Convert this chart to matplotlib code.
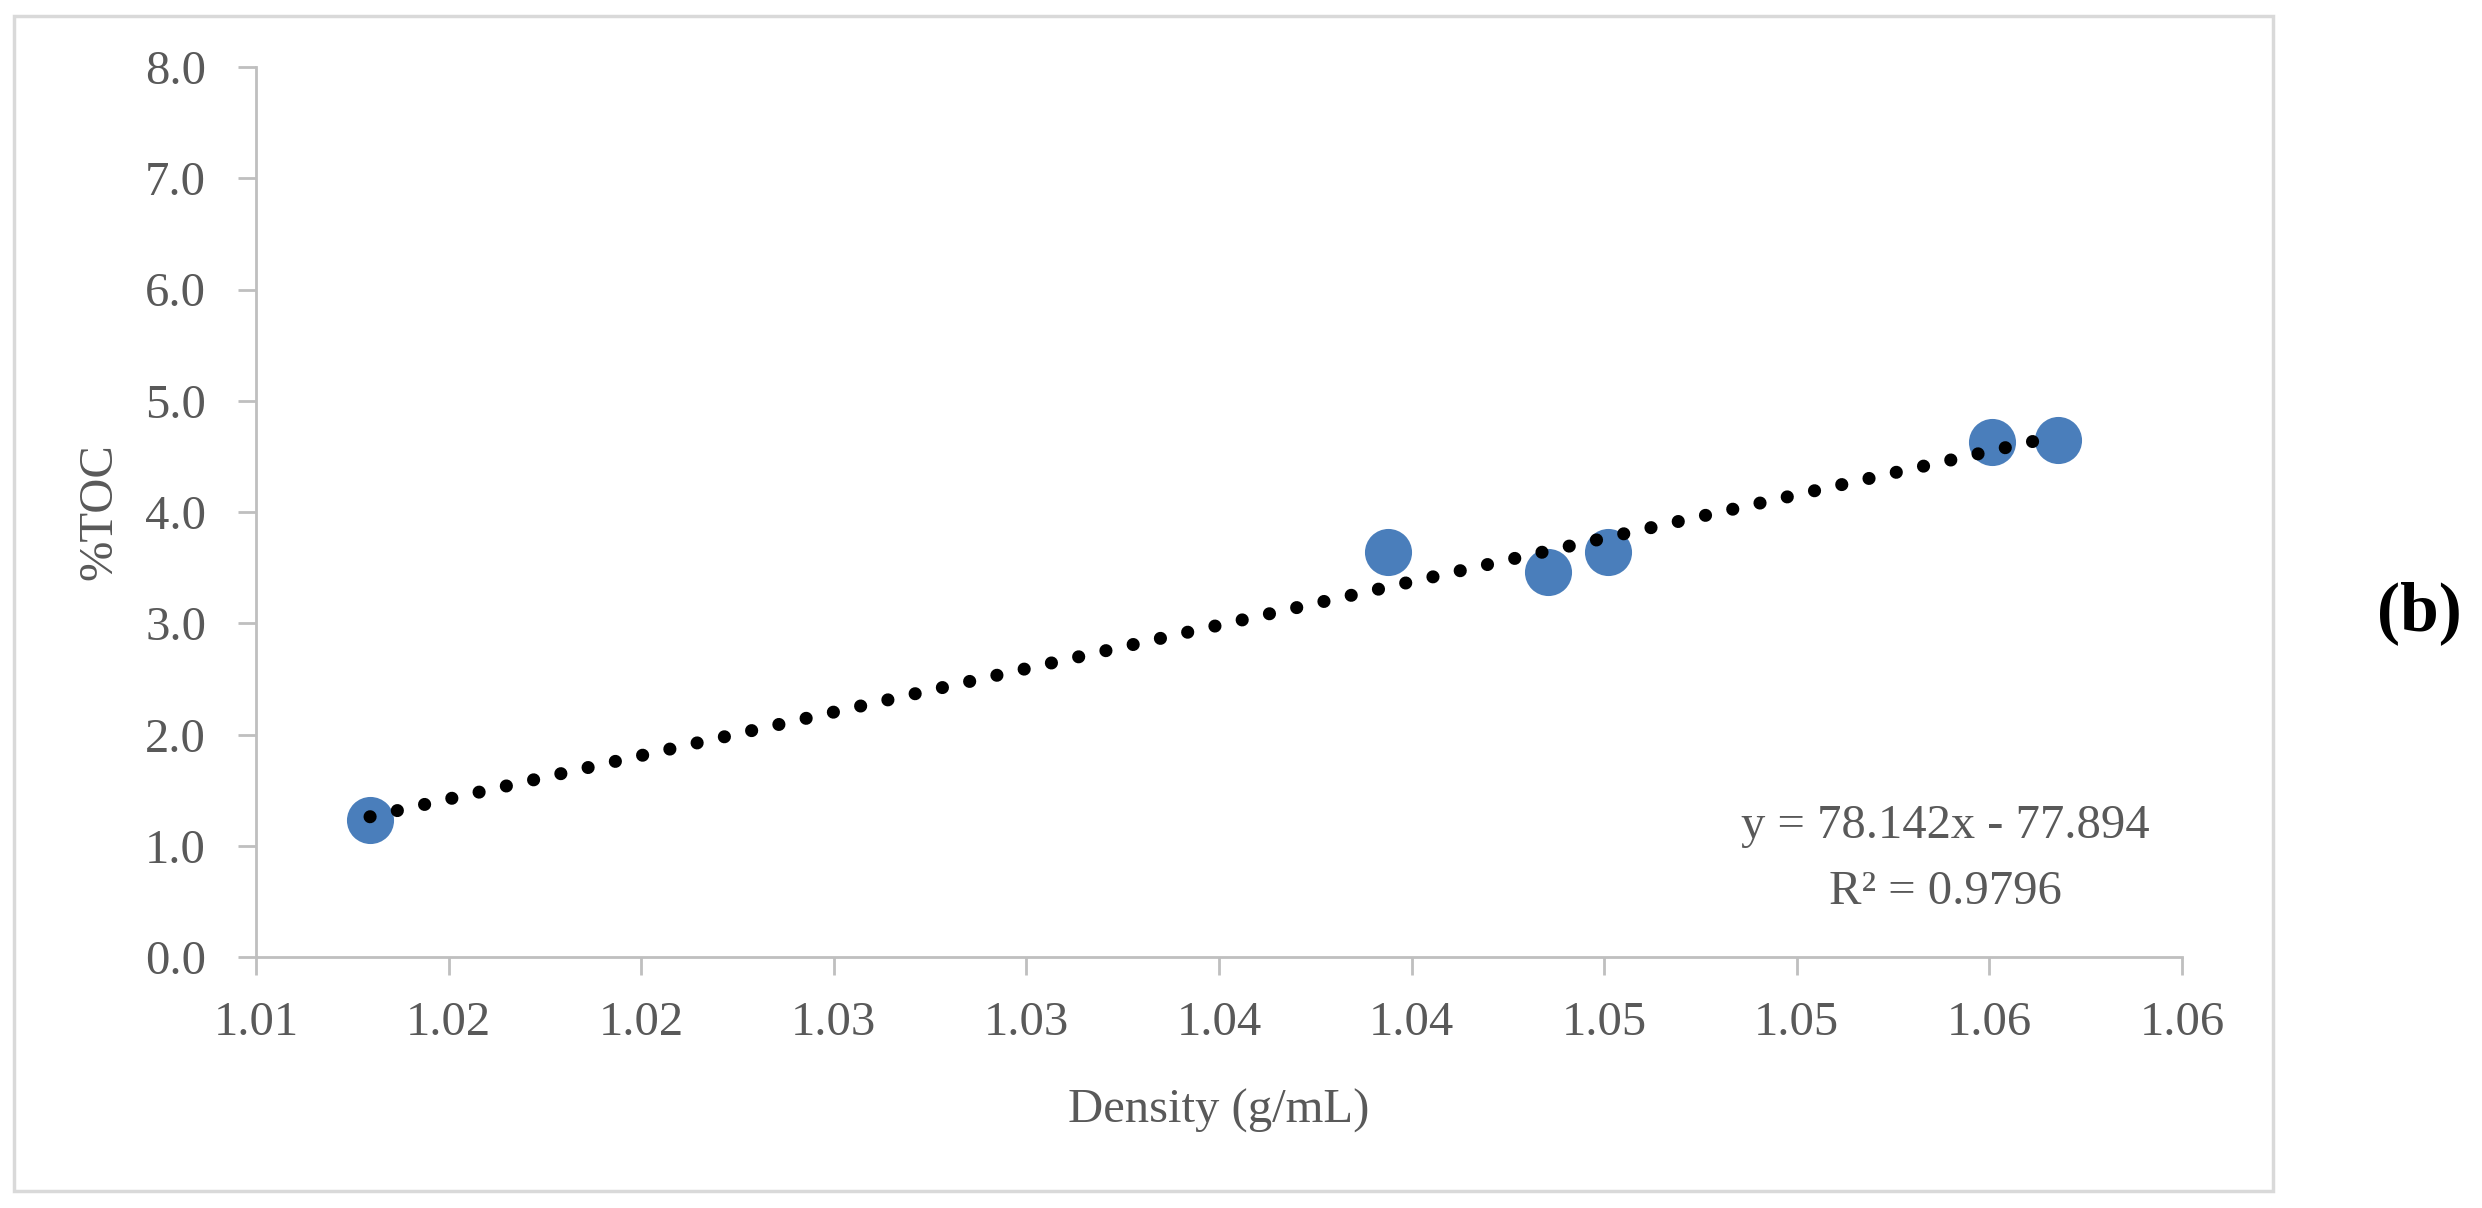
import matplotlib.pyplot as plt
from matplotlib.patches import Rectangle
import numpy as np

# data
density = [1.01296, 1.03939, 1.04354, 1.04510, 1.05507, 1.05678]
toc = [1.23, 3.64, 3.46, 3.64, 4.63, 4.65]
slope, intercept = 78.142, -77.894
r2 = 0.9796
x_ticks = [1.010, 1.015, 1.020, 1.025, 1.030, 1.035, 1.040, 1.045, 1.050, 1.055, 1.060]
y_ticks = [0, 1, 2, 3, 4, 5, 6, 7, 8]

plt.rcParams['font.family'] = ['Liberation Serif', 'DejaVu Serif']
grey = '#595959'
axis_grey = '#BFBFBF'
W, H = 2482, 1208

fig = plt.figure(figsize=(W / 100, H / 100), dpi=100)
ax = fig.add_axes([256 / W, 1 - 957 / H, (2182 - 256) / W, (957 - 67) / H])

# outer chart frame
fig.patches.append(Rectangle((14 / W, 1 - 1191 / H), (2273 - 14) / W, (1191 - 16) / H,
                             transform=fig.transFigure, fill=False, edgecolor='#D9D9D9', linewidth=2.5))

ax.scatter(density, toc, s=1150, color='#4A7EBB', zorder=2, linewidths=0)

xs = np.array([min(density), max(density)])
ax.plot(xs, slope * xs + intercept, color='black', linewidth=9.4,
        linestyle=(0, (0.01, 2.13)), dash_capstyle='round', zorder=3)

ax.set_xlim(1.010, 1.060)
ax.set_ylim(0, 8)
ax.set_xticks(x_ticks)
ax.set_xticklabels(['%.2f' % (round(v * 100 + 1e-9) / 100) for v in x_ticks])
ax.set_yticks(y_ticks)
ax.set_yticklabels(['%.1f' % v for v in y_ticks])

for s in ['top', 'right']:
    ax.spines[s].set_visible(False)
for s in ['left', 'bottom']:
    ax.spines[s].set_color(axis_grey)
    ax.spines[s].set_linewidth(2)
ax.tick_params(axis='both', colors=axis_grey, labelcolor=grey, labelsize=35,
               length=13, width=2, direction='out')
ax.tick_params(axis='y', pad=23)
ax.tick_params(axis='x', pad=19)

ax.set_xlabel('Density (g/mL)', fontsize=35, color=grey, va='baseline')
ax.xaxis.set_label_coords(0.5, (957 - 1123) / 890)
ax.set_ylabel('%TOC', fontsize=35, color=grey, va='center')
ax.yaxis.set_label_coords((99 - 256) / 1926, 0.5)

ax.text(0.877, 0.1337, 'y = 78.142x - 77.894', transform=ax.transAxes,
        ha='center', va='baseline', fontsize=35, color=grey)
ax.text(0.877, 0.0596, 'R² = %.4f' % r2, transform=ax.transAxes,
        ha='center', va='baseline', fontsize=35, color=grey)

fig.text(2419 / W, 1 - 613 / H, '(b)', fontsize=50,
         fontweight='bold', ha='center', va='center', color='black')

fig.savefig('out.png', dpi=100)
